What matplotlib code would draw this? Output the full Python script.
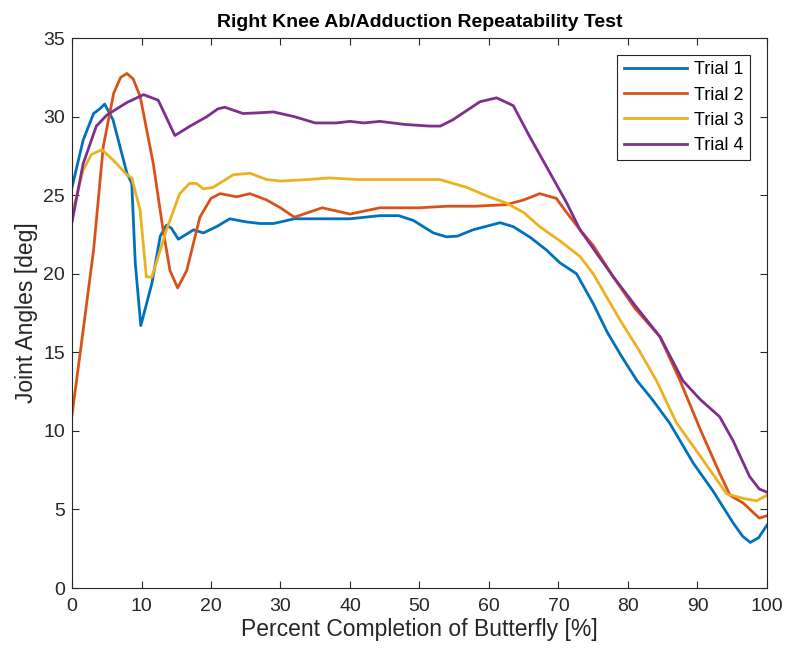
import matplotlib.pyplot as plt

plt.rcParams["font.family"] = ["Liberation Sans", "DejaVu Sans"]

# values (percent completion, joint angle in deg)
t1_x = [0, 1.6, 3.1, 4.0, 4.7, 5.9, 7.9, 8.6, 9.1, 9.9, 11.5, 12.7, 13.6, 14.3, 15.3,
        17.5, 18.9, 20.8, 22.7, 25.1, 27.1, 29, 32, 36, 40, 44.3, 47, 49.1, 52, 53.9,
        55.5, 57.7, 61.6, 63.5, 66, 68.3, 70.2, 72.6, 75, 77, 79, 81.3, 83.5, 86,
        89.4, 92.2, 95.2, 96.5, 97.6, 98.8, 100]
t1_y = [25.5, 28.5, 30.2, 30.5, 30.8, 29.8, 26.4, 25.75, 20.7, 16.7, 19.4, 22.4, 23.1,
        22.9, 22.2, 22.8, 22.6, 23.0, 23.5, 23.3, 23.2, 23.2, 23.5, 23.5, 23.5, 23.7,
        23.7, 23.4, 22.6, 22.35, 22.4, 22.8, 23.25, 23.0, 22.3, 21.5, 20.7, 20.0, 18.1,
        16.3, 14.8, 13.2, 12.0, 10.5, 7.95, 6.2, 4.1, 3.3, 2.9, 3.2, 4.0]

t2_x = [0, 1.6, 3.1, 4.5, 6.0, 7.0, 7.9, 8.8, 9.8, 11.7, 13.1, 14.1, 15.2, 16.5, 18.4,
        20.0, 21.3, 23.7, 25.6, 28, 30, 32, 34, 36, 40, 44.3, 50, 53.9, 58, 62.5,
        65, 67.3, 69.7, 71, 73.1, 75, 77.9, 81, 84.6, 87.5, 90.4, 93.2, 94.7, 96.6,
        98.9, 100]
t2_y = [11.0, 16.4, 21.5, 28.1, 31.5, 32.5, 32.75, 32.4, 31.3, 27.0, 22.8, 20.2, 19.1,
        20.2, 23.6, 24.8, 25.1, 24.9, 25.1, 24.7, 24.2, 23.6, 23.9, 24.2, 23.8, 24.2,
        24.2, 24.3, 24.3, 24.4, 24.7, 25.1, 24.8, 24.0, 22.8, 21.8, 19.8, 17.8, 16.0,
        13.2, 10.1, 7.3, 5.9, 5.4, 4.45, 4.6]

t3_x = [0, 1.6, 2.8, 4.3, 6.0, 7.9, 8.6, 9.8, 10.7, 11.5, 13.6, 15.5, 16.9, 17.9, 18.9,
        20.3, 23.2, 25.6, 28, 30, 34, 37, 41, 44.3, 48, 52.9, 56.8, 60, 62.5, 65,
        67.3, 70.2, 73.1, 75, 78.8, 81.5, 84.1, 87, 90.4, 94.2, 96.6, 98.5, 100]
t3_y = [23.8, 26.6, 27.6, 27.9, 27.2, 26.3, 26.1, 24.05, 19.8, 19.8, 22.8, 25.1, 25.75,
        25.75, 25.4, 25.5, 26.3, 26.4, 26.0, 25.9, 26.0, 26.1, 26.0, 26.0, 26.0, 26.0,
        25.5, 24.9, 24.5, 23.9, 23.0, 22.1, 21.1, 20.0, 17.1, 15.2, 13.2, 10.5, 8.4,
        6.0, 5.7, 5.55, 5.9]

t4_x = [0, 1.6, 3.5, 5.0, 7.9, 10.3, 12.4, 14.8, 17, 19.4, 21.0, 22, 24.6, 27.1, 29,
        32, 35, 38, 40, 42, 44.3, 48, 51.5, 53, 54.8, 56.5, 58.7, 61.1, 63.5, 65.9,
        68.3, 71.2, 73.1, 75.5, 77.9, 81, 84.6, 87.9, 90.4, 93.2, 95.1, 97.5, 98.9, 100]
t4_y = [23.3, 27.0, 29.4, 30.1, 30.9, 31.4, 31.05, 28.8, 29.4, 30.0, 30.5, 30.6, 30.2,
        30.25, 30.3, 30.0, 29.6, 29.6, 29.7, 29.6, 29.7, 29.5, 29.4, 29.4, 29.8, 30.3,
        30.95, 31.2, 30.7, 28.7, 26.8, 24.5, 22.8, 21.3, 19.8, 18.0, 16.0, 13.2, 12.0,
        10.9, 9.4, 7.1, 6.3, 6.1]

trials = [("Trial 1", t1_x, t1_y, "#0072BD"),
          ("Trial 2", t2_x, t2_y, "#D95319"),
          ("Trial 3", t3_x, t3_y, "#EDB120"),
          ("Trial 4", t4_x, t4_y, "#7E2F8E")]

fig = plt.figure(figsize=(7.87, 6.57), dpi=100)
ax = fig.add_axes([0.0915, 0.105, 0.883, 0.837])

for label, xs, ys, color in trials:
    ax.plot(xs, ys, color=color, linewidth=2, label=label)

ax.set_xlim(0, 100)
ax.set_ylim(0, 35)
ax.set_xticks(range(0, 101, 10))
ax.set_yticks(range(0, 36, 5))
ax.tick_params(direction="in", top=True, right=True, length=5, width=0.8,
               labelsize=14, colors="#262626")
ax.tick_params(axis="x", pad=7)
ax.tick_params(axis="y", pad=5)
for s in ax.spines.values():
    s.set_color("#262626")
    s.set_linewidth(0.8)

ax.set_xlabel("Percent Completion of Butterfly [%]", fontsize=16.5, color="#262626",
              labelpad=2)
ax.set_ylabel("Joint Angles [deg]", fontsize=16.5, color="#262626", labelpad=4)
ax.set_title("Right Knee Ab/Adduction Repeatability Test", fontsize=14,
             fontweight="bold", color="black", pad=8)

leg = ax.legend(loc="upper right", bbox_to_anchor=(0.9755, 0.969), fontsize=13,
                fancybox=False, framealpha=1, edgecolor="#262626",
                handlelength=3.5, handletextpad=0.4, borderpad=0.35,
                labelspacing=0.45, borderaxespad=0)
leg.get_frame().set_linewidth(0.8)

fig.savefig("out.png", dpi=100)
